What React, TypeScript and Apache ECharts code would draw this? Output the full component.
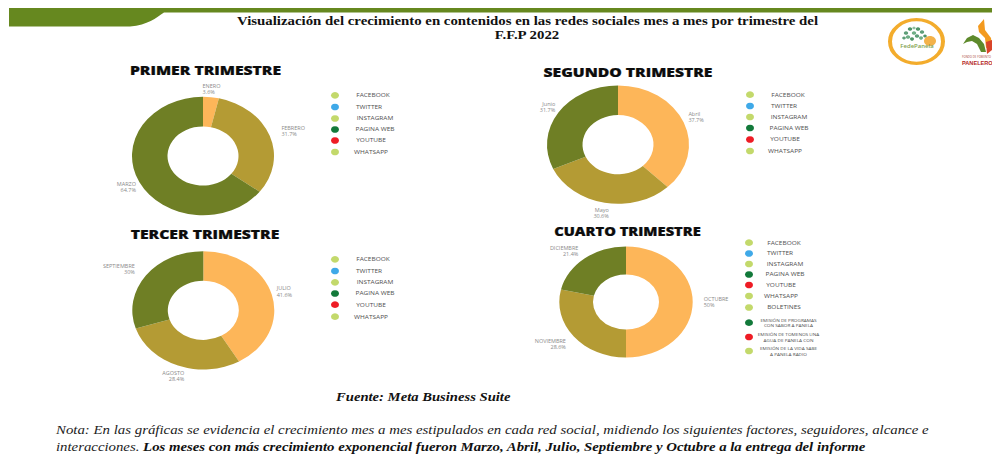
import React, { useEffect, useRef } from "react";
import * as echarts from "echarts";

const primerNames = ["ENERO", "FEBRERO", "MARZO"];
const primerValues = [3.6, 31.7, 64.7];
const segundoNames = ["Abril", "Mayo", "Junio"];
const segundoValues = [37.7, 30.6, 31.7];
const tercerNames = ["JULIO", "AGOSTO", "SEPTIEMBRE"];
const tercerValues = [41.6, 28.4, 30];
const cuartoNames = ["OCTUBRE", "NOVIEMBRE", "DICIEMBRE"];
const cuartoValues = [50, 28.6, 21.4];
const sliceColors = ["#FDB659", "#B49B34", "#6F7F25"];

const primerLabelShift = [[-17, -4], [-1, -3], [9, 3]];
const segundoLabelShift = [[-8, -4], [13, 6], [9, -3]];
const tercerLabelShift = [[-8, -2], [16, 7], [1, -4]];
const cuartoLabelShift = [[-2, 0], [4, 5], [5, -4]];

const baseLegend = ["FACEBOOK", "TWITTER", "INSTAGRAM", "PAGINA WEB", "YOUTUBE", "WHATSAPP"];
const baseLegendColors = ["#C3D96B", "#3FA9E8", "#C3D96B", "#12793A", "#EE1C25", "#C3D96B"];
const cuartoLegend = [
  ...baseLegend,
  "BOLETINES",
  "EMISIÓN DE PROGRAMAS\nCON SABOR A PANELA",
  "EMISIÓN DE TOMENOS UNA\nAGUA DE PANELA CON",
  "EMISIÓN DE LA VIDA SABE\nA PANELA RADIO",
];
const cuartoLegendColors = [...baseLegendColors, "#C3D96B", "#12793A", "#EE1C25", "#C3D96B"];

const TITLE_1 = "Visualización del crecimiento en contenidos en las redes sociales mes a mes por trimestre del";
const TITLE_2 = "F.F.P 2022";
const FUENTE = "Fuente: Meta Business Suite";
const NOTE_1 =
  "Nota: En las gráficas se evidencia el crecimiento mes a mes estipulados en cada red social, midiendo los siguientes factores, seguidores, alcance e";
const NOTE_2A = "interacciones. ";
const NOTE_2B =
  "Los meses con más crecimiento exponencial fueron Marzo, Abril, Julio, Septiembre y Octubre a la entrega del informe";

// The whole picture is stretched sideways: the chart is drawn taller, then squeezed vertically.
const SY = 1.2;
const Y = (y: number) => y * SY;
const SANS = "'Open Sans', sans-serif";
const SERIF = "'Liberation Serif', serif";

echarts.graphic.registerShape(
  "topBand",
  echarts.graphic.extendPath("M9 8 H992 V12.5 H164 C156 18 148 25 130 26.5 H9 Z", {}) as any
);

function pie(names: string[], values: number[], shift: number[][], cx: number, cy: number, r0: number, r: number) {
  return {
    type: "pie",
    center: [cx, Y(cy)],
    radius: [r0, r],
    startAngle: 90,
    clockwise: true,
    avoidLabelOverlap: false,
    silent: true,
    label: {
      show: true,
      position: "outside",
      formatter: "{b}\n{c}%",
      fontFamily: SANS,
      fontSize: 5.5,
      lineHeight: 7.5,
      color: "#8a8a8a",
      align: "center",
    },
    labelLine: { show: false, length: 5, length2: 3 },
    labelLayout: (params: any) => ({
      dx: shift[params.dataIndex][0],
      dy: Y(shift[params.dataIndex][1]),
    }),
    data: names.map((name, i) => ({ name, value: values[i], itemStyle: { color: sliceColors[i] } })),
  };
}

function heading(text: string, x: number, y: number, fontSize = 15.7) {
  return {
    type: "text",
    x,
    y: Y(y),
    style: {
      text,
      fontFamily: SANS,
      fontWeight: 800,
      fontSize,
      fill: "#0c0c0c",
      stroke: "#0c0c0c",
      lineWidth: 0.3,
      align: "center",
      verticalAlign: "middle",
    },
  };
}

function legendBlock(
  names: string[],
  colors: string[],
  markerX: number,
  textX: number[],
  rows: number[],
  fontSizes: number[]
) {
  const out: any[] = [];
  names.forEach((name, i) => {
    out.push({
      type: "circle",
      x: markerX,
      y: Y(rows[i]),
      shape: { cx: 0, cy: 0, r: 4 },
      style: { fill: colors[i] },
    });
    out.push({
      type: "text",
      x: textX[i],
      y: Y(rows[i]),
      style: {
        text: name,
        fontFamily: SANS,
        fontSize: fontSizes[i],
        lineHeight: fontSizes[i] * 1.45,
        fill: "#505050",
        align: "center",
        verticalAlign: "middle",
      },
    });
  });
  return out;
}

const treeDots: [number, number, number, string][] = [
  [906, 33, 2.2, "#5E9E78"], [910, 29, 2.2, "#4F9468"], [914, 33, 2.2, "#6FAE86"], [918, 29, 2.2, "#4F9468"],
  [922, 32, 2.2, "#5E9E78"], [908, 37, 2.2, "#6FAE86"], [912, 39, 2, "#4F9468"], [917, 36, 2.2, "#5E9E78"],
  [921, 38, 2, "#6FAE86"], [904, 38, 1.8, "#5E9E78"], [925, 36, 1.8, "#4F9468"], [914, 28, 1.6, "#8FC09F"],
];

function logos() {
  const p = (pts: number[][]) => pts.map(([x, y]) => [x, Y(y)]);
  const out: any[] = [
    {
      type: "ellipse",
      shape: { cx: 916.5, cy: Y(41.5), rx: 26.5, ry: Y(21.8) },
      style: { fill: "#fff", stroke: "#F3AC2C", lineWidth: 4 },
    },
    {
      type: "ellipse",
      shape: { cx: 930, cy: Y(41), rx: 6, ry: Y(5) },
      style: { fill: "#F3B24A" },
    },
  ];
  treeDots.forEach(([x, y, r, fill]) =>
    out.push({
      type: "circle",
      x,
      y: Y(y),
      shape: { cx: 0, cy: 0, r },
      style: { fill },
    })
  );
  out.push({
    type: "text",
    x: 917,
    y: Y(46),
    style: {
      text: "FedePanela",
      fontFamily: SANS,
      fontWeight: 600,
      fontSize: 6,
      fill: "#7F9F4E",
      align: "center",
      verticalAlign: "middle",
    },
  });
  out.push(
    {
      type: "polygon",
      shape: { points: p([[963, 44], [967, 38], [973, 35], [979, 38], [984, 44], [986, 52], [981, 52], [977, 44], [972, 41], [967, 42]]) },
      style: { fill: "#5E8A2C" },
    },
    {
      type: "polygon",
      shape: { points: p([[978, 26], [984, 19], [985, 30], [991, 38], [992, 46], [986, 48], [985, 38], [979, 32]]) },
      style: { fill: "#F39A1F" },
    },
    {
      type: "polygon",
      shape: { points: p([[986, 42], [992, 40], [992, 50], [987, 54]]) },
      style: { fill: "#D9442A" },
    },
    {
      type: "text",
      x: 962,
      y: Y(56.5),
      scaleX: 0.75,
      style: { text: "FONDO DE FOMENTO", fontFamily: SANS, fontSize: 3.8, fill: "#A63A32", verticalAlign: "middle" },
    },
    {
      type: "text",
      x: 962,
      y: Y(62.5),
      scaleX: 0.78,
      style: { text: "PANELERO", fontFamily: "'Liberation Sans', sans-serif", fontWeight: 700, fontSize: 7.2, fill: "#B5281F", verticalAlign: "middle" },
    }
  );
  return out;
}

export default function App() {
  const ref = useRef<HTMLDivElement>(null);
  useEffect(() => {
    const chart = echarts.init(ref.current!, undefined, { renderer: "svg" });
    chart.setOption({
      animation: false,
      backgroundColor: "#ffffff",
      series: [
        pie(primerNames, primerValues, primerLabelShift, 203, 156, 35.5, 71),
        pie(segundoNames, segundoValues, segundoLabelShift, 618, 144.7, 35.5, 71),
        pie(tercerNames, tercerValues, tercerLabelShift, 203.3, 310.3, 35.5, 71),
        pie(cuartoNames, cuartoValues, cuartoLabelShift, 626, 302, 33, 66.7),
      ],
      graphic: {
        elements: [
          { type: "topBand", x: 0, y: 0, scaleX: 1, scaleY: SY, style: { fill: "#66881F" } },
          {
            type: "text",
            x: 527.5,
            y: Y(20.5),
            style: { text: TITLE_1, fontFamily: SERIF, fontWeight: 700, fontSize: 14.85, fill: "#111", align: "center", verticalAlign: "middle" },
          },
          {
            type: "text",
            x: 527,
            y: Y(35),
            style: { text: TITLE_2, fontFamily: SERIF, fontWeight: 700, fontSize: 14.85, fill: "#111", align: "center", verticalAlign: "middle" },
          },
          heading("PRIMER TRIMESTRE", 205.5, 70),
          heading("SEGUNDO TRIMESTRE", 628, 72),
          heading("TERCER TRIMESTRE", 205, 234),
          heading("CUARTO TRIMESTRE", 627.5, 231, 14.7),
          ...legendBlock(baseLegend, baseLegendColors, 335, [373, 369, 375, 375, 371, 371],
            [95.3, 107, 118.5, 129.5, 140.5, 152], [6.5, 6.5, 6.5, 6.5, 6.5, 6.5]),
          ...legendBlock(baseLegend, baseLegendColors, 750, [788, 784, 789, 789, 785, 785],
            [94.7, 106, 117, 128, 139.5, 151], [6.5, 6.5, 6.5, 6.5, 6.5, 6.5]),
          ...legendBlock(baseLegend, baseLegendColors, 335, [373, 369, 375, 375, 371, 371],
            [259.3, 271, 282.3, 293.5, 304.7, 316.7], [6.5, 6.5, 6.5, 6.5, 6.5, 6.5]),
          ...legendBlock(cuartoLegend, cuartoLegendColors, 749, [784, 780, 785, 785, 781, 781, 784, 788.5, 788.5, 788.5],
            [242.7, 253.5, 264, 274.5, 285, 296, 307.5, 322.7, 337, 351],
            [6.5, 6.5, 6.5, 6.5, 6.5, 6.5, 6.5, 4.7, 4.7, 4.7]),
          {
            type: "text",
            x: 336,
            y: Y(397),
            style: { text: FUENTE, fontFamily: SERIF, fontWeight: 700, fontStyle: "italic", fontSize: 14.65, fill: "#111", verticalAlign: "middle" },
          },
          {
            type: "text",
            x: 56,
            y: Y(430),
            style: { text: NOTE_1, fontFamily: SERIF, fontStyle: "italic", fontSize: 14.85, fill: "#222", verticalAlign: "middle" },
          },
          {
            type: "text",
            x: 56,
            y: Y(447),
            style: {
              text: `{a|${NOTE_2A}}{b|${NOTE_2B}}`,
              verticalAlign: "middle",
              rich: {
                a: { fontFamily: SERIF, fontStyle: "italic", fontSize: 14.8, fill: "#222", color: "#222" },
                b: { fontFamily: SERIF, fontStyle: "italic", fontWeight: 700, fontSize: 14.8, fill: "#111", color: "#111" },
              },
            },
          },
          ...logos(),
        ],
      },
    });
    return () => chart.dispose();
  }, []);
  return (
    <div style={{ position: "absolute", left: 0, top: 0, width: 992, height: 460, overflow: "hidden", background: "#fff" }}>
      <div
        ref={ref}
        style={{ width: 992, height: 460 * SY, transform: `scaleY(${1 / SY})`, transformOrigin: "0 0" }}
      />
    </div>
  );
}
